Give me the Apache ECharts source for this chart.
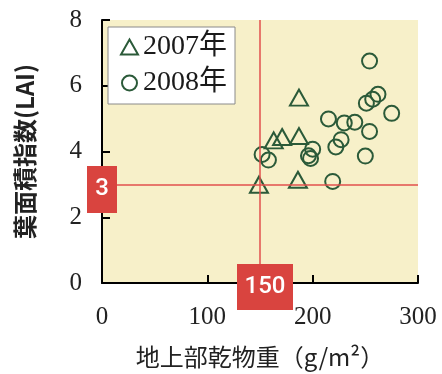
<!DOCTYPE html>
<html>
<head>
<meta charset="utf-8">
<script src="https://cdn.jsdelivr.net/npm/echarts@6/dist/echarts.min.js"></script>
<style>
html,body{margin:0;padding:0;background:#fff;}
#c{width:442px;height:374px;}
</style>
</head>
<body>
<div id="c"></div>
<script>
// Data
const seriesNames = ['2007年', '2008年'];
const x2007 = [149, 186, 163, 171, 187, 187];
const y2007 = [2.99, 3.14, 4.34, 4.44, 4.47, 5.64];
const x2008 = [254, 262, 257, 251, 275, 215, 230, 240, 254, 227, 222, 200, 196, 198, 152, 158, 250, 219];
const y2008 = [6.75, 5.74, 5.59, 5.47, 5.16, 4.99, 4.87, 4.89, 4.61, 4.36, 4.14, 4.07, 3.87, 3.79, 3.91, 3.74, 3.86, 3.09];
const xTicks = [0, 100, 200, 300];
const yTicks = [0, 2, 4, 6, 8];
const refX = 150;
const refY = 3;
const xName = '地上部乾物重（g/m²）';
const yName = '葉面積指数(LAI)';

const green = '#2b5a39';
const red = '#d9443f';
const serif = "'Liberation Serif','Noto Sans CJK JP',serif";

const d2007 = x2007.map((v, i) => [v, y2007[i]]);
const d2008 = x2008.map((v, i) => [v, y2008[i]]);

const chart = echarts.init(document.getElementById('c'), null, {renderer: 'canvas'});
chart.setOption({
  animation: false,
  grid: {
    left: 102, right: 24, top: 20, bottom: 88,
    show: true, backgroundColor: '#f7f0c9', borderWidth: 0
  },
  legend: {
    orient: 'vertical',
    left: 108, top: 27,
    backgroundColor: '#ffffff',
    borderColor: '#8a8a8a', borderWidth: 1,
    padding: [6, 8, 7, 12],
    itemWidth: 17, itemHeight: 15, itemGap: 8, itemTextGap: 9,
    textStyle: {fontFamily: serif, fontSize: 28, color: '#1a1a1a'},
    data: [
      {name: seriesNames[0], icon: 'triangle', itemStyle: {color: 'rgba(0,0,0,0)', borderColor: green, borderWidth: 2}},
      {name: seriesNames[1], icon: 'circle', itemStyle: {color: 'rgba(0,0,0,0)', borderColor: green, borderWidth: 2}}
    ]
  },
  xAxis: {
    type: 'value', min: xTicks[0], max: xTicks[xTicks.length - 1], interval: 100,
    name: xName, nameLocation: 'middle', nameGap: 62,
    nameTextStyle: {fontFamily: "'Noto Sans CJK JP'", fontSize: 24, color: '#222'},
    axisLine: {show: true, lineStyle: {color: '#000', width: 2}},
    axisTick: {show: true, inside: true, length: 8, lineStyle: {color: '#000', width: 2}},
    axisLabel: {fontFamily: serif, fontSize: 25, color: '#222', margin: 22},
    splitLine: {show: false}
  },
  yAxis: {
    type: 'value', min: yTicks[0], max: yTicks[yTicks.length - 1], interval: 2,
    name: yName, nameLocation: 'middle', nameGap: 65, nameRotate: 90,
    nameTextStyle: {fontFamily: "'Noto Sans CJK JP'", fontSize: 24, fontWeight: 'bold', color: '#222'},
    axisLine: {show: true, lineStyle: {color: '#000', width: 2}},
    axisTick: {show: true, inside: true, length: 8, lineStyle: {color: '#000', width: 2}},
    axisLabel: {fontFamily: serif, fontSize: 25, color: '#222', margin: 20},
    splitLine: {show: false}
  },
  series: [
    {
      name: seriesNames[0], type: 'scatter', symbol: 'triangle', symbolSize: [18, 16],
      itemStyle: {color: 'rgba(0,0,0,0)', borderColor: green, borderWidth: 2, opacity: 1},
      data: d2007, z: 3
    },
    {
      name: seriesNames[1], type: 'scatter', symbol: 'circle', symbolSize: 15,
      itemStyle: {color: 'rgba(0,0,0,0)', borderColor: green, borderWidth: 2, opacity: 1},
      data: d2008, z: 3
    },
    {
      name: 'ref', type: 'scatter', data: [], z: 5,
      markLine: {
        silent: true, symbol: 'none', animation: false,
        lineStyle: {color: '#e2504c', width: 1.5, type: 'solid'},
        label: {show: false},
        data: [{xAxis: refX}, {yAxis: refY}]
      },
      markPoint: {
        silent: true, animation: false,
        itemStyle: {color: red},
        label: {show: true, color: '#fff', fontFamily: "'Roboto','Liberation Sans',sans-serif", fontSize: 24, fontWeight: 500},
        data: [
          {coord: [xTicks[0], refY], value: String(refY), symbol: 'rect', symbolSize: [30, 47], symbolOffset: [0, 5]},
          {coord: [refX, yTicks[0]], value: String(refX), symbol: 'rect', symbolSize: [56, 46], symbolOffset: [5, 4]}
        ]
      }
    }
  ]
});
</script>
</body>
</html>
